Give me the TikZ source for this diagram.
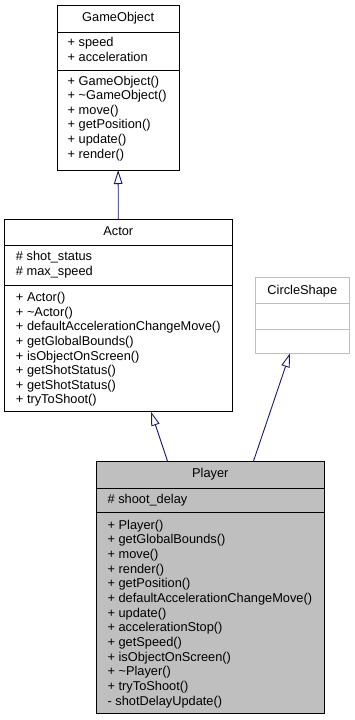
\documentclass[tikz,border=0pt]{standalone}
\usepackage{fontspec}
\setmainfont{Liberation Sans}
\usetikzlibrary{arrows.meta}

\definecolor{edgeblue}{HTML}{191970}
\definecolor{boxgrey}{HTML}{BFBFBF}

\tikzset{
  classbox/.style={draw=black, line width=0.9pt, rectangle, inner sep=0pt, outer sep=0pt, anchor=north west},
  extbox/.style={draw=boxgrey, line width=0.9pt, rectangle, inner sep=0pt, outer sep=0pt, anchor=north west},
  sepline/.style={draw=black, line width=0.9pt},
  extsep/.style={draw=boxgrey, line width=0.9pt},
  member/.style={anchor=base west, inner sep=0pt, outer sep=0pt, font=\fontsize{12.8}{14.6}\selectfont},
  title/.style={anchor=base, inner sep=0pt, outer sep=0pt, font=\fontsize{12.8}{14.6}\selectfont},
  inherit/.style={draw=edgeblue, line width=0.9pt, -{Triangle[open, length=14pt, width=8.5pt, line width=0.9pt]}}
}

\begin{document}
\begin{tikzpicture}[x=1pt, y=-1pt]
  \useasboundingbox (0,0) rectangle (354,720);

  % ---------- GameObject ----------
  \node[classbox, minimum width=122.3pt, minimum height=165pt] (go) at (57,5) {};
  \draw[sepline] (57,32.3) -- (179.3,32.3);
  \draw[sepline] (57,70.7) -- (179.3,70.7);
  \node[title] (go-t) at (118.15,21.3) {GameObject};
  \foreach \txt [count=\i from 0] in {+ speed, + acceleration}
    \node[member] (go-a\i) at (67.7,46.7+14.5*\i) {\txt};
  \foreach \txt [count=\i from 0] in {+ GameObject(), + \textasciitilde GameObject(), + move(), + getPosition(), + update(), + render()}
    \node[member] (go-m\i) at (67.7,85+14.6*\i) {\txt};

  % ---------- Actor ----------
  \node[classbox, minimum width=228pt, minimum height=192.4pt] (actor) at (4.3,219.3) {};
  \draw[sepline] (4.3,245) -- (232.3,245);
  \draw[sepline] (4.3,285) -- (232.3,285);
  \node[title] (actor-t) at (118.3,235) {Actor};
  \foreach \txt [count=\i from 0] in {\# shot\_status, \# max\_speed}
    \node[member] (actor-a\i) at (16,260.7+14.5*\i) {\txt};
  \foreach \txt [count=\i from 0] in {+ Actor(), + \textasciitilde Actor(), + defaultAccelerationChangeMove(), + getGlobalBounds(), + isObjectOnScreen(), + getShotStatus(), + getShotStatus(), + tryToShoot()}
    \node[member] (actor-m\i) at (16,301.7+14.6*\i) {\txt};

  % ---------- CircleShape (external) ----------
  \node[extbox, minimum width=93.3pt, minimum height=76pt] (circle) at (255.7,277.3) {};
  \draw[extsep] (255.7,303.3) -- (349,303.3);
  \draw[extsep] (255.7,329) -- (349,329);
  \node[title] (circle-t) at (302.35,294) {CircleShape};

  % ---------- Player ----------
  \node[classbox, fill=boxgrey, minimum width=227.3pt, minimum height=251.6pt] (player) at (96.7,461.7) {};
  \draw[sepline] (96.7,488.3) -- (324,488.3);
  \draw[sepline] (96.7,512.7) -- (324,512.7);
  \node[title] (player-t) at (210.35,477.7) {Player};
  \node[member] (player-a0) at (107.6,503.3) {\# shoot\_delay};
  \foreach \txt [count=\i from 0] in {+ Player(), + getGlobalBounds(), + move(), + render(), + getPosition(), + defaultAccelerationChangeMove(), + update(), + accelerationStop(), + getSpeed(), + isObjectOnScreen(), + \textasciitilde Player(), + tryToShoot(), - shotDelayUpdate()}
    \node[member] (player-m\i) at (107.6,529+14.67*\i) {\txt};

  % ---------- inheritance ----------
  \draw[inherit] (actor.north) -- (go.south);
  \draw[inherit] ([xshift=-42.65pt]player.north) -- ([xshift=32.7pt]actor.south);
  \draw[inherit] ([xshift=42.95pt]player.north) -- ([xshift=-12.35pt]circle.south);
\end{tikzpicture}
\end{document}
